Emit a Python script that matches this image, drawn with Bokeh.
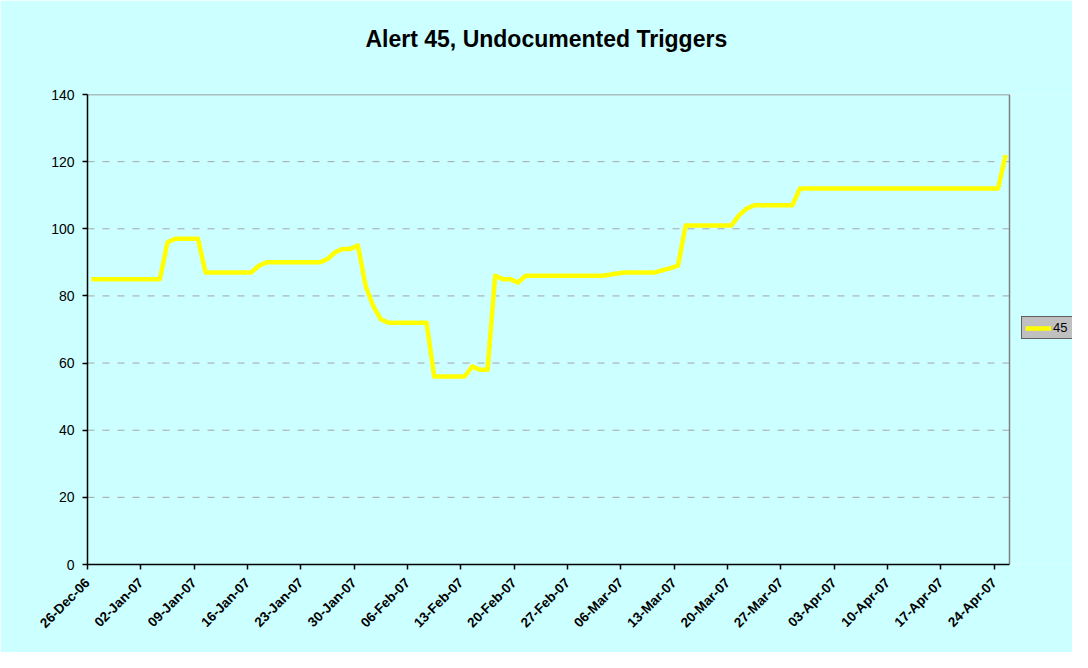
import math
import pandas as pd
from bokeh.plotting import figure
from bokeh.models import (Range1d, FixedTicker, DatetimeTickFormatter, Legend,
                          LegendItem, Title)
from bokeh.embed import file_html
from bokeh.resources import INLINE

# ---- data ----
start_date = "2006-12-26"
values = [
    85, 85, 85, 85, 85, 85, 85, 85, 85, 85,
    96, 97, 97, 97, 97,
    87, 87, 87, 87, 87, 87, 87,
    89, 90, 90, 90, 90, 90, 90, 90, 90,
    91, 93, 94, 94, 95,
    83, 77, 73, 72, 72, 72, 72, 72, 72,
    56, 56, 56, 56, 56,
    59, 58, 58, 86, 85, 85, 84,
    86, 86, 86, 86, 86, 86, 86, 86, 86, 86, 86,
    86.3, 86.7, 87, 87, 87, 87, 87,
    87.7, 88.3, 89,
    101, 101, 101, 101, 101, 101, 101,
    104, 106, 107, 107, 107, 107, 107, 107,
    112, 112, 112, 112, 112, 112, 112, 112, 112, 112,
    112, 112, 112, 112, 112, 112, 112, 112, 112, 112,
    112, 112, 112, 112, 112, 112, 112,
    122,
]
tick_labels = ["26-Dec-06", "02-Jan-07", "09-Jan-07", "16-Jan-07", "23-Jan-07",
               "30-Jan-07", "06-Feb-07", "13-Feb-07", "20-Feb-07", "27-Feb-07",
               "06-Mar-07", "13-Mar-07", "20-Mar-07", "27-Mar-07", "03-Apr-07",
               "10-Apr-07", "17-Apr-07", "24-Apr-07"]
y_ticks = [0, 20, 40, 60, 80, 100, 120, 140]
series_name = "45"
title_text = "Alert 45, Undocumented Triggers"

# ---- derived ----
dates = pd.date_range(start_date, periods=len(values), freq="D")
xpos = dates + pd.Timedelta(hours=12)   # points sit in the middle of each day
tick_dates = pd.to_datetime(tick_labels, format="%d-%b-%y")
tick_ms = [int(t.value // 10**6) for t in tick_dates]

x_start = dates[0]
x_end = dates[-1] + pd.Timedelta(days=1)          # right edge of plot area
Y_MAX = 140

# layout (pixels)
LEFT, TOP, BOTTOM = 87, 94, 88
PLOT_W, FRAME_W, FRAME_H = 922, 985, 470           # frame extends under legend
span = (x_end - x_start) * (FRAME_W / PLOT_W)
x_range_end = x_start + span

BG = "#CCFFFF"
FONT = "Liberation Sans"
GRID = "#A6A6A6"
BORDER = "#808080"

p = figure(frame_width=FRAME_W, frame_height=FRAME_H,
           output_backend="svg", toolbar_location=None,
           x_axis_type="datetime",
           x_range=Range1d(x_start, x_range_end),
           y_range=Range1d(0, Y_MAX),
           min_border_left=LEFT, min_border_right=0,
           min_border_top=TOP, min_border_bottom=BOTTOM)

p.background_fill_color = BG
p.border_fill_color = BG
p.outline_line_color = None

# spacer next to the frame, then the visible title further out
spacer = Title(text=" ", text_font_size="1px", standoff=15)
p.add_layout(spacer, "above")
main_title = Title(text=title_text, align="left", offset=278,
                   vertical_align="top",
                   text_font=FONT, text_font_size="23px",
                   text_font_style="bold", text_color="black", standoff=46)
p.add_layout(main_title, "above")

# dashed horizontal gridlines limited to the plot area
grid_y = [t for t in y_ticks if 0 < t < Y_MAX]
p.segment(x0=[x_start] * len(grid_y), x1=[x_end] * len(grid_y),
          y0=grid_y, y1=grid_y, line_color=GRID, line_dash="7 8", line_width=1)

# plot-area border (top and right)
p.segment(x0=[x_start, x_end], x1=[x_end, x_end], y0=[Y_MAX, 0], y1=[Y_MAX, Y_MAX],
          line_color=BORDER, line_width=1.5)

r = p.line(xpos, values, line_color="#FFFF00", line_width=4.5, line_join="round")

# axes
for ax in (p.xaxis[0], p.yaxis[0]):
    ax.axis_line_color = "black"
    ax.axis_line_width = 1.5
    ax.major_tick_line_color = "black"
    ax.major_tick_line_width = 1.5
    ax.major_tick_in = 0
    ax.major_tick_out = 5
    ax.minor_tick_line_color = None
    ax.major_label_text_font = FONT
    ax.major_label_text_color = "black"

p.yaxis.ticker = FixedTicker(ticks=y_ticks)
p.yaxis.major_label_text_font_size = "14px"
p.yaxis.major_label_standoff = 8

p.xaxis.ticker = FixedTicker(ticks=tick_ms)
p.xaxis.bounds = (x_start, x_end)
fmt = "%d-%b-%y"
p.xaxis.formatter = DatetimeTickFormatter(
    microseconds=fmt, milliseconds=fmt, seconds=fmt, minsec=fmt, minutes=fmt,
    hourmin=fmt, hours=fmt, days=fmt, months=fmt, years=fmt)
p.xaxis.major_label_orientation = math.pi / 4
p.xaxis.major_label_text_font_size = "13.5px"
p.xaxis.major_label_text_font_style = "bold"
p.xaxis.major_label_standoff = 11

p.xgrid.grid_line_color = None
p.ygrid.grid_line_color = None

legend = Legend(items=[LegendItem(label=series_name, renderers=[r])],
                location=(PLOT_W + 12, 225))
legend.background_fill_color = "#C0C0C0"
legend.background_fill_alpha = 1
legend.border_line_color = "black"
legend.border_line_width = 1
legend.label_text_font = FONT
legend.label_text_font_size = "13px"
legend.label_text_color = "black"
legend.glyph_width = 26
legend.glyph_height = 14
legend.label_standoff = 2
legend.padding = 3
legend.margin = 0
legend.spacing = 0
legend.label_height = 14
p.add_layout(legend, "center")

open("out.html", "w").write(file_html(p, INLINE))
